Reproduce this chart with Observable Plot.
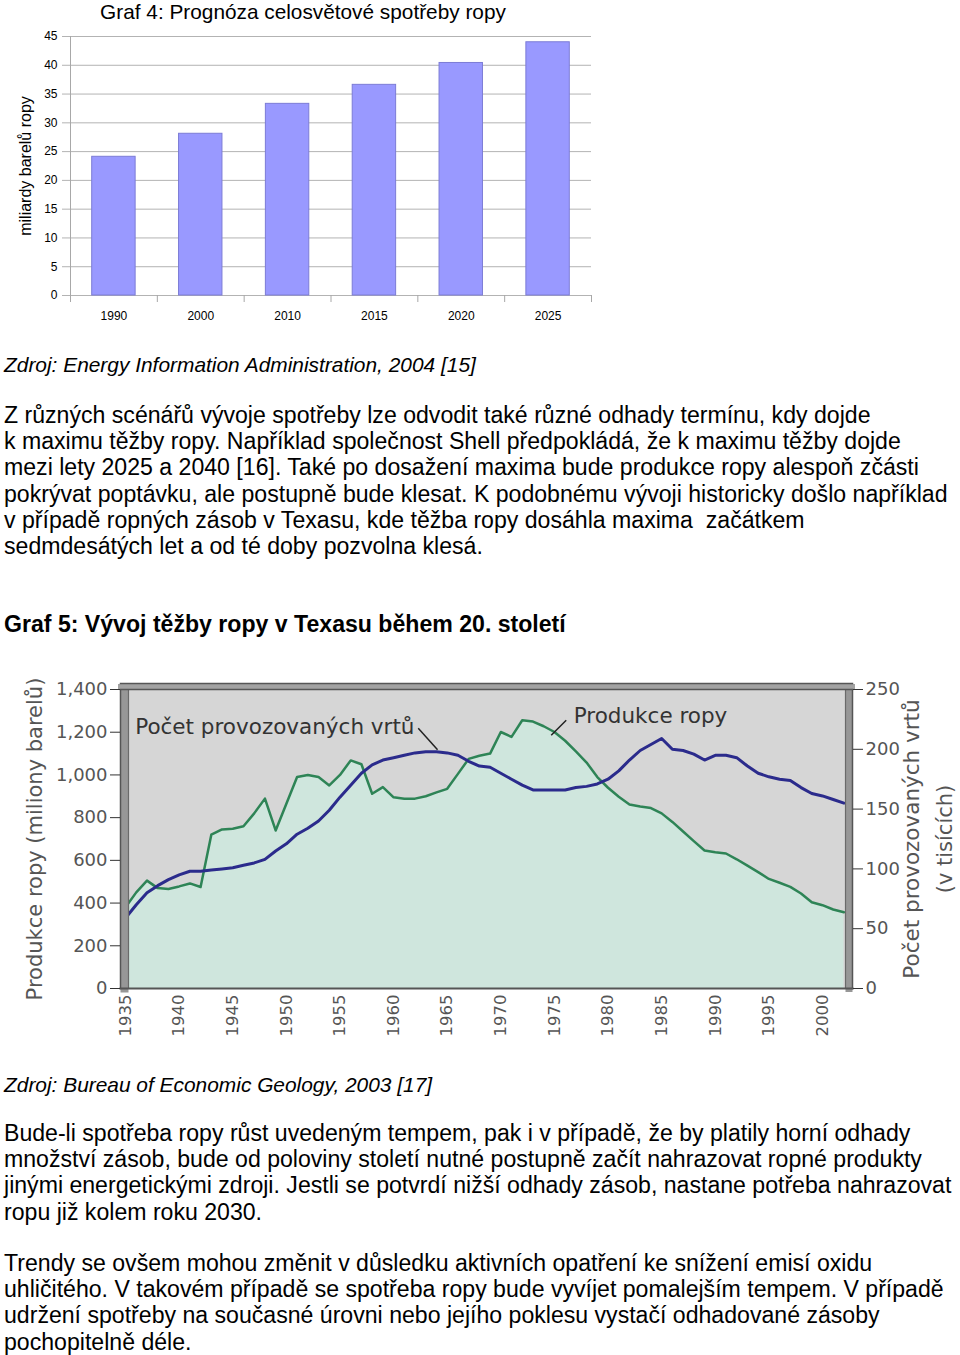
<!DOCTYPE html>
<html>
<head>
<meta charset="utf-8">
<script src="https://cdn.jsdelivr.net/npm/d3@7"></script>
<script src="https://cdn.jsdelivr.net/npm/@observablehq/plot@0.6"></script>
<style>
  html, body { margin: 0; padding: 0; background: #fff; }
  body { position: relative; width: 960px; height: 1355px; overflow: hidden;
         font-family: "Liberation Sans", Arial, sans-serif; color: #000; }
  .txt { position: absolute; left: 4px; white-space: nowrap; font-size: 23.1px; line-height: 26.2px; }
  .src { font-style: italic; font-size: 20.9px; }
  .hdr { font-weight: bold; }
  #title4 { position: absolute; left: 0; top: 0; width: 606px; text-align: center;
            font-size: 20.8px; line-height: 24px; }
  #chart4 { position: absolute; left: 0; top: 24px; }
  #chart5 { position: absolute; left: 0; top: 645px; }
</style>
</head>
<body>
<div id="title4">Graf 4: Prognóza celosvětové spotřeby ropy</div>
<div id="chart4"></div>
<div class="txt src" style="top:352px">Zdroj: Energy Information Administration, 2004 [15]</div>
<div class="txt" style="top:402px">Z různých scénářů vývoje spotřeby lze odvodit také různé odhady termínu, kdy dojde<br>k maximu těžby ropy. Například společnost Shell předpokládá, že k maximu těžby dojde<br>mezi lety 2025 a 2040 [16]. Také po dosažení maxima bude produkce ropy alespoň zčásti<br>pokrývat poptávku, ale postupně bude klesat. K podobnému vývoji historicky došlo například<br>v případě ropných zásob v Texasu, kde těžba ropy dosáhla maxima&nbsp; začátkem<br>sedmdesátých let a od té doby pozvolna klesá.</div>
<div class="txt hdr" style="top:611px">Graf 5: Vývoj těžby ropy v Texasu během 20. století</div>
<div id="chart5"></div>
<div class="txt src" style="top:1072px">Zdroj: Bureau of Economic Geology, 2003 [17]</div>
<div class="txt" style="top:1120px">Bude-li spotřeba ropy růst uvedeným tempem, pak i v případě, že by platily horní odhady<br>množství zásob, bude od poloviny století nutné postupně začít nahrazovat ropné produkty<br>jinými energetickými zdroji. Jestli se potvrdí nižší odhady zásob, nastane potřeba nahrazovat<br>ropu již kolem roku 2030.</div>
<div class="txt" style="top:1250px">Trendy se ovšem mohou změnit v důsledku aktivních opatření ke snížení emisí oxidu<br>uhličitého. V takovém případě se spotřeba ropy bude vyvíjet pomalejším tempem. V případě<br>udržení spotřeby na současné úrovni nebo jejího poklesu vystačí odhadované zásoby<br>pochopitelně déle.</div>

<script>
// ---------- Graf 4 data ----------
const years4 = ["1990", "2000", "2010", "2015", "2020", "2025"];
const consumption = [24.1, 28.1, 33.3, 36.6, 40.4, 44.0];
const yTicks4 = [0, 5, 10, 15, 20, 25, 30, 35, 40, 45];
const yLabel4 = "miliardy barelů ropy";

// ---------- Graf 5 data ----------
const texasYears = [1935, 1936, 1937, 1938, 1939, 1940, 1941, 1942, 1943, 1944,
  1945, 1946, 1947, 1948, 1949, 1950, 1951, 1952, 1953, 1954,
  1955, 1956, 1957, 1958, 1959, 1960, 1961, 1962, 1963, 1964,
  1965, 1966, 1967, 1968, 1969, 1970, 1971, 1972, 1973, 1974,
  1975, 1976, 1977, 1978, 1979, 1980, 1981, 1982, 1983, 1984,
  1985, 1986, 1987, 1988, 1989, 1990, 1991, 1992, 1993, 1994,
  1995, 1996, 1997, 1998, 1999, 2000, 2001, 2002];
// oil production, million barrels
const production = [380, 450, 505, 470, 466, 478, 492, 475, 720, 745,
  748, 760, 820, 889, 740, 865, 990, 1000, 990, 951,
  1000, 1068, 1050, 912, 943, 895, 889, 889, 900, 918,
  935, 1005, 1075, 1090, 1100, 1201, 1178, 1256, 1250, 1228,
  1201, 1160, 1110, 1058, 990, 940, 898, 862, 852, 845,
  820, 780, 735, 690, 646, 638, 632, 605, 575, 545,
  513, 495, 476, 445, 404, 390, 370, 357];
// producing wells, thousands
const wells = [59, 70, 80, 86, 91, 95, 98, 98, 99, 100,
  101, 103, 105, 108, 115, 121, 129, 134, 140, 149,
  160, 170, 180, 187, 191, 193, 195, 197, 198, 198,
  197, 195, 190, 186, 185, 180, 175, 170, 166, 166,
  166, 166, 168, 169, 171, 175, 182, 191, 199, 204,
  209, 200, 199, 196, 191, 195, 195, 193, 186, 180,
  177, 175, 174, 168, 163, 161, 158, 155];
const prodTicks = [0, 200, 400, 600, 800, 1000, 1200, 1400];
const wellTicks = [0, 50, 100, 150, 200, 250];
const xTicks5 = [1935, 1940, 1945, 1950, 1955, 1960, 1965, 1970, 1975, 1980, 1985, 1990, 1995, 2000];
const leftTitle5 = "Produkce ropy (miliony barelů)";
const rightTitle5a = "Počet provozovaných vrtů";
const rightTitle5b = "(v tisících)";
const annotations5 = [
  {label: "Počet provozovaných vrtů", x: 1935.9, y: 1224, x1: 1962.3, y1: 1218, x2: 1964.1, y2: 1118},
  {label: "Produkce ropy", x: 1976.8, y: 1275, x1: 1976.1, y1: 1256, x2: 1974.7, y2: 1186}
];

// ---------- Graf 4 ----------
const data4 = years4.map((year, i) => ({i, year, value: consumption[i]}));
const chart4 = Plot.plot({
  width: 600, height: 311,
  marginTop: 12, marginBottom: 40, marginLeft: 70, marginRight: 9,
  style: {fontFamily: "'Liberation Sans', Arial, sans-serif", fontSize: "12px", background: "transparent", color: "#000", overflow: "visible"},
  x: {domain: [0, years4.length], axis: null},
  y: {domain: [0, 45], axis: null},
  marks: [
    Plot.gridY(yTicks4, {stroke: "#b3b3b3", strokeOpacity: 1}),
    Plot.axisY({ticks: yTicks4, tickSize: 8, tickPadding: 5, stroke: "#b3b3b3", label: null}),
    Plot.ruleX([0], {stroke: "#a8a8a8"}),
    Plot.rectY(data4, {x1: d => d.i + 0.25, x2: d => d.i + 0.75, y: "value", fill: "#9999ff", stroke: "#7c7cd6", strokeWidth: 1}),
    Plot.axisX({ticks: d3.range(years4.length + 1), tickSize: 7, tickFormat: () => "", stroke: "#a8a8a8", label: null}),
    Plot.axisX({ticks: years4.map((_, i) => i + 0.5), tickFormat: d => years4[Math.floor(d)], tickSize: 0, tickPadding: 16, label: null}),
    Plot.text([yLabel4], {frameAnchor: "left", rotate: -90, dx: -45, textAnchor: "middle", fontSize: 16})
  ]
});
document.getElementById("chart4").append(chart4);

// ---------- Graf 5 ----------
const wellsToProd = 1400 / 250;
const texas = texasYears.map((year, i) => ({year, production: production[i], wells: wells[i] * wellsToProd}));
const font5 = "'DejaVu Sans', Verdana, sans-serif";
const chart5 = Plot.plot({
  width: 960, height: 405,
  marginTop: 44, marginBottom: 62, marginLeft: 120, marginRight: 108,
  style: {fontFamily: font5, fontSize: "18px", background: "transparent", color: "#555", overflow: "visible"},
  x: {domain: [1934.53, 2002.8], axis: null},
  y: {domain: [0, 1400], axis: null},
  marks: [
    Plot.frame({fill: "#d6d6d6", stroke: null}),
    Plot.areaY(texas, {x: "year", y: "production", fill: "#cfe6dd"}),
    Plot.line(texas, {x: "year", y: "production", stroke: "#2e8456", strokeWidth: 2.5}),
    Plot.line(texas, {x: "year", y: "wells", stroke: "#2b2b8c", strokeWidth: 3}),
    // 3D frame
    Plot.frame({anchor: "left", stroke: "#979797", strokeWidth: 8, dx: 4}),
    Plot.frame({anchor: "left", stroke: "#555", strokeWidth: 1.5}),
    Plot.frame({anchor: "left", stroke: "#6a6a6a", strokeWidth: 1.2, dx: 8}),
    Plot.frame({anchor: "right", stroke: "#979797", strokeWidth: 7, dx: -3.5}),
    Plot.frame({anchor: "right", stroke: "#555", strokeWidth: 1.5}),
    Plot.frame({anchor: "right", stroke: "#6a6a6a", strokeWidth: 1.2, dx: -7}),
    Plot.frame({anchor: "top", stroke: "#a2a2a2", strokeWidth: 5, dy: -3}),
    Plot.frame({anchor: "top", stroke: "#555", strokeWidth: 1.5, dy: -6}),
    Plot.frame({anchor: "top", stroke: "#555", strokeWidth: 1.5}),
    Plot.frame({anchor: "bottom", stroke: "#555", strokeWidth: 2}),
    // axes
    Plot.axisY({ticks: prodTicks, tickSize: 10, tickPadding: 3, tickFormat: d3.format(","), stroke: "#333", fill: "#555", fontSize: 18, label: null}),
    Plot.axisY({anchor: "right", ticks: wellTicks.map(v => v * wellsToProd), tickFormat: d => String(Math.round(d / wellsToProd)), tickSize: 10, tickPadding: 3, stroke: "#333", fill: "#555", fontSize: 18, label: null}),
    Plot.axisX({ticks: xTicks5, tickFormat: d => String(d), tickRotate: -90, tickSize: 0, tickPadding: 6, fill: "#555", fontSize: 16.5, label: null}),
    // axis titles
    Plot.text([leftTitle5], {frameAnchor: "left", rotate: -90, dx: -85, textAnchor: "middle", fontSize: 21, fill: "#555"}),
    Plot.text([rightTitle5a], {frameAnchor: "right", rotate: -90, dx: 60, textAnchor: "middle", fontSize: 21.5, fill: "#555"}),
    Plot.text([rightTitle5b], {frameAnchor: "right", rotate: -90, dx: 93, textAnchor: "middle", fontSize: 21, fill: "#555"}),
    // annotations
    Plot.link(annotations5, {x1: "x1", y1: "y1", x2: "x2", y2: "y2", stroke: "#222", strokeWidth: 1.5}),
    Plot.text(annotations5, {x: "x", y: "y", text: "label", textAnchor: "start", fontSize: 21.5, fill: "#333"})
  ]
});
document.getElementById("chart5").append(chart5);
</script>
</body>
</html>
